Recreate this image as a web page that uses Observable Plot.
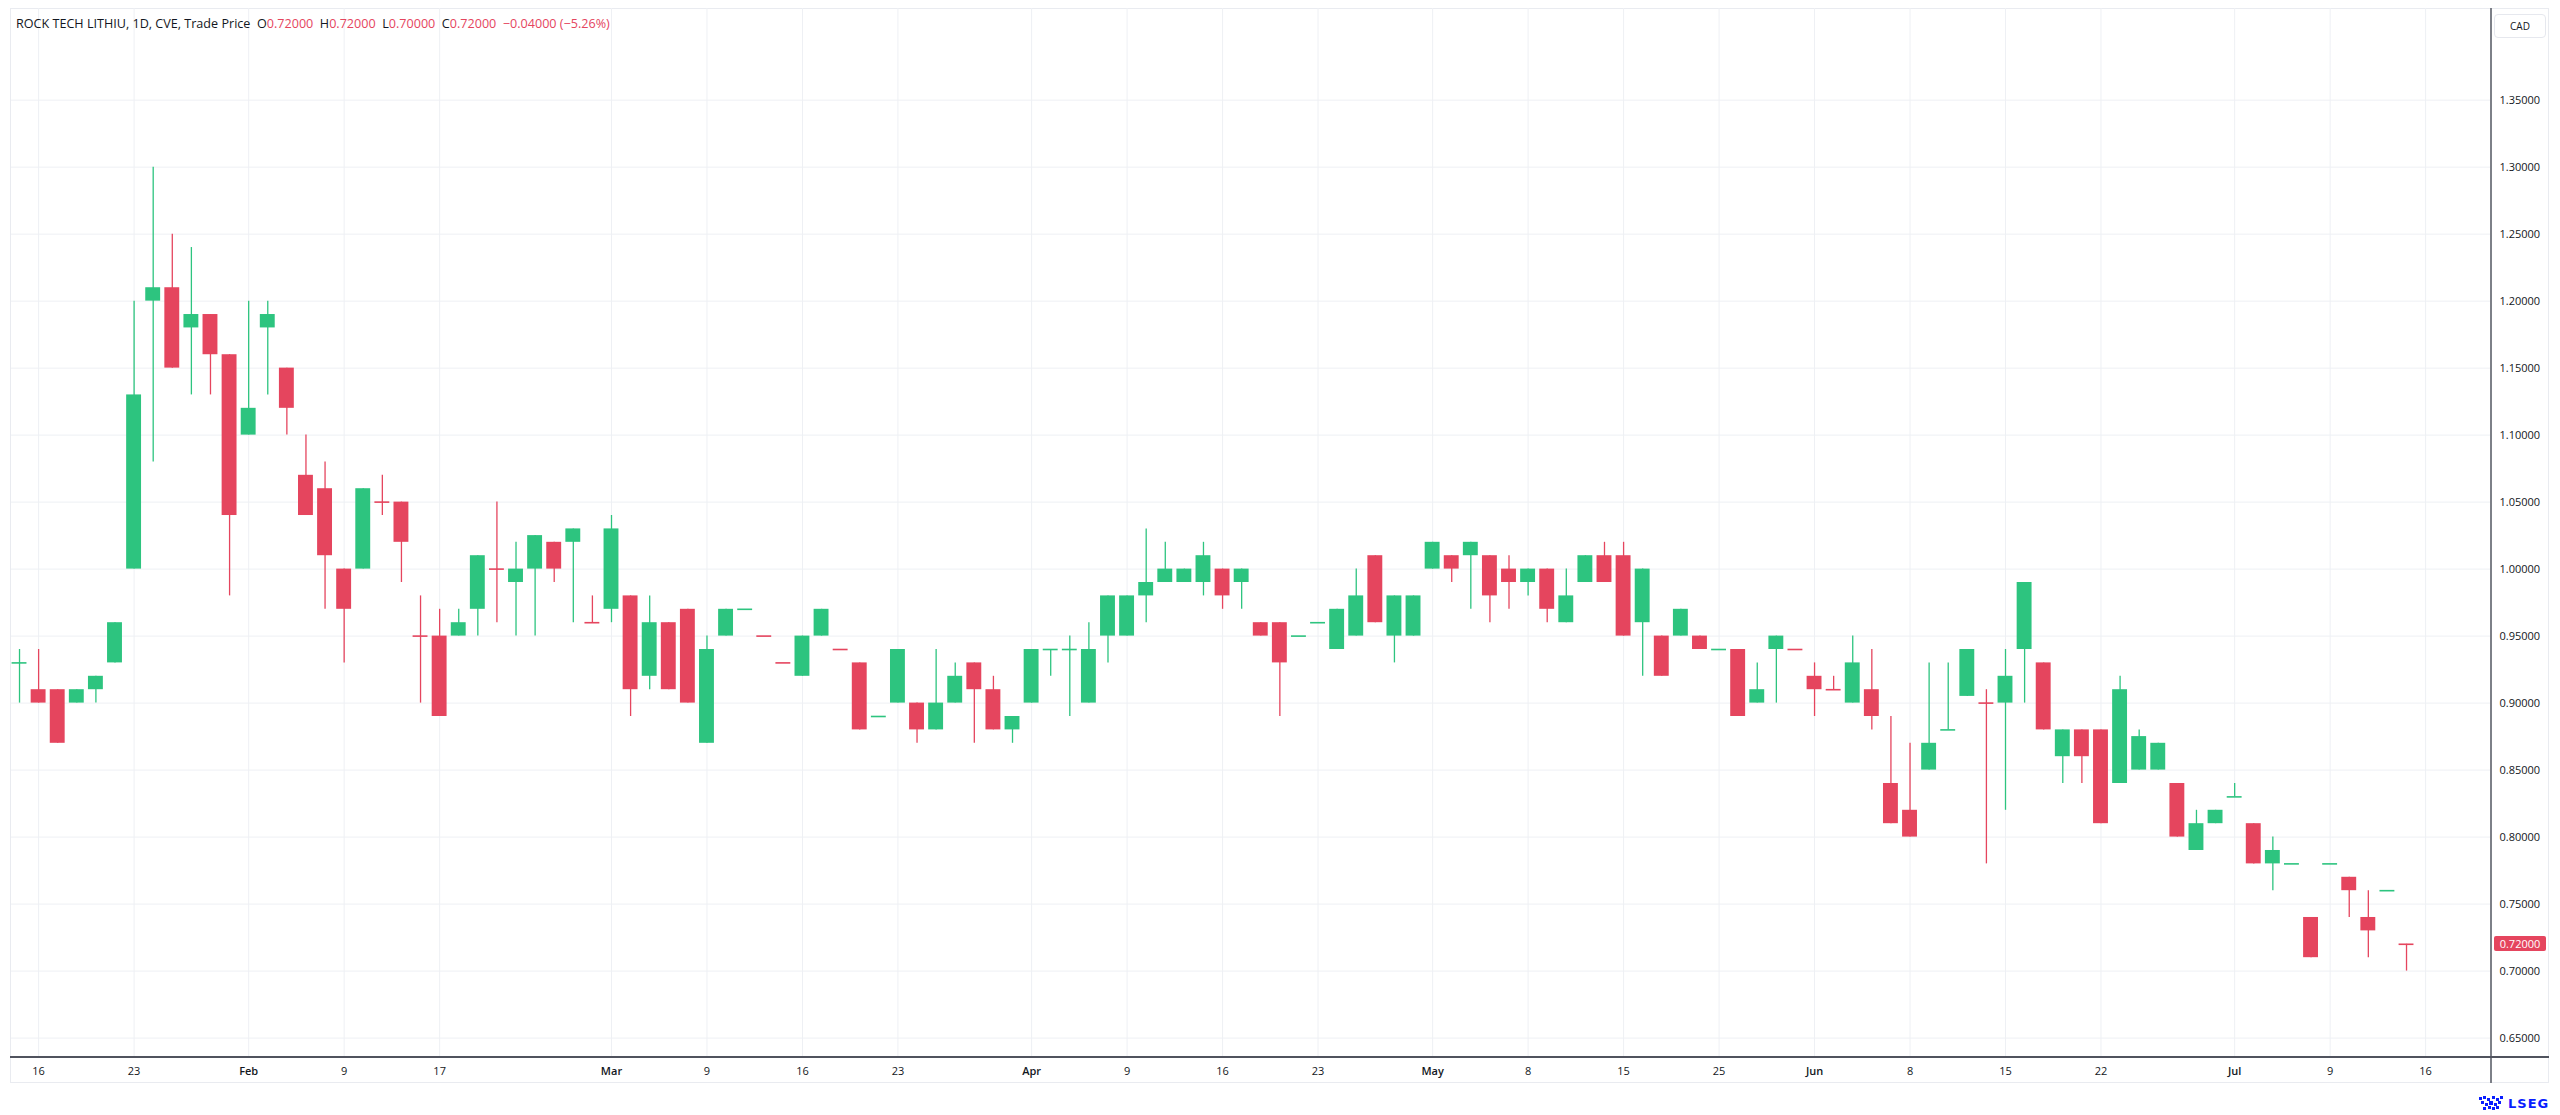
<!DOCTYPE html>
<html>
<head>
<meta charset="utf-8">
<script src="https://cdn.jsdelivr.net/npm/d3@7"></script>
<script src="https://cdn.jsdelivr.net/npm/@observablehq/plot@0.6"></script>
<style>
  body { margin: 0; background: #ffffff; font-family: "Open Sans", "Noto Sans", sans-serif; }
  #wrap { position: relative; width: 2560px; height: 1115px; overflow: hidden; background: #fff; }
  #wrap svg.plot { position: absolute; left: 0; top: 0; }
  .abs { position: absolute; }
  #frame { left: 10px; top: 8px; width: 2539px; height: 1075px; border: 1px solid #e9ebf0; box-sizing: border-box; }
  #header { left: 16px; top: 15px; font-size: 12.6px; color: #131722; white-space: pre; line-height: 18px; }
  #header .v { color: #e5455e; }
  #cad { left: 2494px; top: 14px; width: 52px; height: 24px; border: 1px solid #e6e8ee; border-radius: 4px; box-sizing: border-box;
         font-size: 10px; color: #131722; text-align: center; line-height: 22px; }
  #tag { left: 2494px; width: 52px; height: 15px; background: #e5455e; color: #fff; font-size: 11px; text-align: center; line-height: 15px; border-radius: 2px; }
  #vline { left: 2490px; top: 8px; width: 2px; height: 1075px; background: #7d8088; }
  #hline { left: 10px; top: 1056px; width: 2539px; height: 2px; background: #50535e; }
  #logo { left: 2478px; top: 1094px; height: 18px; display: flex; align-items: center; gap: 4px; }
  #logo span { font-family: "DejaVu Sans", sans-serif; font-weight: bold; font-size: 13px; color: #0a1eff; letter-spacing: 1px; }
</style>
</head>
<body>
<div id="wrap"></div>
<script>
// ---- data ----
const dates = [
  "2026-01-15","2026-01-16","2026-01-19","2026-01-20","2026-01-21","2026-01-22","2026-01-23","2026-01-26","2026-01-27","2026-01-28","2026-01-29","2026-01-30",
  "2026-02-02","2026-02-03","2026-02-04","2026-02-05","2026-02-06","2026-02-09","2026-02-10","2026-02-11","2026-02-12","2026-02-13","2026-02-17","2026-02-18","2026-02-19","2026-02-20","2026-02-23","2026-02-24","2026-02-25","2026-02-26","2026-02-27",
  "2026-03-02","2026-03-03","2026-03-04","2026-03-05","2026-03-06","2026-03-09","2026-03-10","2026-03-11","2026-03-12","2026-03-13","2026-03-16","2026-03-17","2026-03-18","2026-03-19","2026-03-20","2026-03-23","2026-03-24","2026-03-25","2026-03-26","2026-03-27","2026-03-30","2026-03-31",
  "2026-04-01","2026-04-02","2026-04-06","2026-04-07","2026-04-08","2026-04-09","2026-04-10","2026-04-13","2026-04-14","2026-04-15","2026-04-16","2026-04-17","2026-04-20","2026-04-21","2026-04-22","2026-04-23","2026-04-24","2026-04-27","2026-04-28","2026-04-29","2026-04-30",
  "2026-05-01","2026-05-04","2026-05-05","2026-05-06","2026-05-07","2026-05-08","2026-05-11","2026-05-12","2026-05-13","2026-05-14","2026-05-15","2026-05-19","2026-05-20","2026-05-21","2026-05-22","2026-05-25","2026-05-26","2026-05-27","2026-05-28","2026-05-29",
  "2026-06-01","2026-06-02","2026-06-03","2026-06-04","2026-06-05","2026-06-08","2026-06-09","2026-06-10","2026-06-11","2026-06-12","2026-06-15","2026-06-16","2026-06-17","2026-06-18","2026-06-19","2026-06-22","2026-06-23","2026-06-24","2026-06-25","2026-06-26","2026-06-29","2026-06-30",
  "2026-07-02","2026-07-03","2026-07-06","2026-07-07","2026-07-08","2026-07-09","2026-07-10","2026-07-13","2026-07-14","2026-07-15"
];
const open = [
  0.93,0.91,0.91,0.90,0.91,0.93,1.00,1.20,1.21,1.18,1.19,1.16,
  1.10,1.18,1.15,1.07,1.06,1.00,1.00,1.05,1.05,0.95,0.95,0.95,0.97,1.00,0.99,1.00,1.02,1.02,0.96,
  0.97,0.98,0.92,0.96,0.97,0.87,0.95,0.97,0.95,0.93,0.92,0.95,0.94,0.93,0.89,0.90,0.90,0.88,0.90,0.93,0.91,0.88,
  0.90,0.94,0.94,0.90,0.95,0.95,0.98,0.99,0.99,0.99,1.00,0.99,0.96,0.96,0.95,0.96,0.94,0.95,1.01,0.95,0.95,
  1.00,1.01,1.01,1.01,1.00,0.99,1.00,0.96,0.99,1.01,1.01,0.96,0.95,0.95,0.95,0.94,0.94,0.90,0.94,0.94,
  0.92,0.91,0.90,0.91,0.84,0.82,0.85,0.88,0.905,0.90,0.90,0.94,0.93,0.86,0.88,0.88,0.84,0.85,0.85,0.84,0.79,0.81,
  0.83,0.81,0.78,0.78,0.74,0.78,0.77,0.74,0.76,0.72
];
const high = [
  0.94,0.94,0.91,0.91,0.92,0.96,1.20,1.30,1.25,1.24,1.19,1.16,
  1.20,1.20,1.15,1.10,1.08,1.00,1.06,1.07,1.05,0.98,0.97,0.97,1.01,1.05,1.02,1.025,1.02,1.03,0.98,
  1.04,0.98,0.98,0.96,0.97,0.95,0.97,0.97,0.95,0.93,0.95,0.97,0.94,0.93,0.89,0.94,0.90,0.94,0.93,0.93,0.92,0.89,
  0.94,0.94,0.95,0.96,0.98,0.98,1.03,1.02,1.00,1.02,1.00,1.00,0.96,0.96,0.95,0.96,0.97,1.00,1.01,0.98,0.98,
  1.02,1.01,1.02,1.01,1.01,1.00,1.00,1.00,1.01,1.02,1.02,1.00,0.95,0.97,0.95,0.94,0.94,0.93,0.95,0.94,
  0.93,0.92,0.95,0.94,0.89,0.87,0.93,0.93,0.94,0.91,0.94,0.99,0.93,0.88,0.88,0.88,0.92,0.88,0.87,0.84,0.82,0.82,
  0.84,0.81,0.80,0.78,0.74,0.78,0.77,0.76,0.76,0.72
];
const low = [
  0.90,0.90,0.87,0.90,0.90,0.93,1.00,1.08,1.15,1.13,1.13,0.98,
  1.10,1.13,1.10,1.04,0.97,0.93,1.00,1.04,0.99,0.90,0.89,0.95,0.95,0.96,0.95,0.95,0.99,0.96,0.96,
  0.96,0.89,0.91,0.91,0.90,0.87,0.95,0.97,0.95,0.93,0.92,0.95,0.94,0.88,0.89,0.90,0.87,0.88,0.90,0.87,0.88,0.87,
  0.90,0.92,0.89,0.90,0.93,0.95,0.96,0.99,0.99,0.98,0.97,0.97,0.95,0.89,0.95,0.96,0.94,0.95,0.96,0.93,0.95,
  1.00,0.99,0.97,0.96,0.97,0.98,0.96,0.96,0.99,0.99,0.95,0.92,0.92,0.95,0.94,0.94,0.89,0.90,0.90,0.94,
  0.89,0.91,0.90,0.88,0.81,0.80,0.85,0.88,0.905,0.78,0.82,0.90,0.88,0.84,0.84,0.81,0.84,0.85,0.85,0.80,0.79,0.81,
  0.83,0.78,0.76,0.78,0.71,0.78,0.74,0.71,0.76,0.70
];
const close = [
  0.93,0.90,0.87,0.91,0.92,0.96,1.13,1.21,1.15,1.19,1.16,1.04,
  1.12,1.19,1.12,1.04,1.01,0.97,1.06,1.05,1.02,0.95,0.89,0.96,1.01,1.00,1.00,1.025,1.00,1.03,0.96,
  1.03,0.91,0.96,0.91,0.90,0.94,0.97,0.97,0.95,0.93,0.95,0.97,0.94,0.88,0.89,0.94,0.88,0.90,0.92,0.91,0.88,0.89,
  0.94,0.94,0.94,0.94,0.98,0.98,0.99,1.00,1.00,1.01,0.98,1.00,0.95,0.93,0.95,0.96,0.97,0.98,0.96,0.98,0.98,
  1.02,1.00,1.02,0.98,0.99,1.00,0.97,0.98,1.01,0.99,0.95,1.00,0.92,0.97,0.94,0.94,0.89,0.91,0.95,0.94,
  0.91,0.91,0.93,0.89,0.81,0.80,0.87,0.88,0.94,0.90,0.92,0.99,0.88,0.88,0.86,0.81,0.91,0.875,0.87,0.80,0.81,0.82,
  0.83,0.78,0.79,0.78,0.71,0.78,0.76,0.73,0.76,0.72
];
// sessions where open == close and the candle was drawn as a down candle
const dojiDown = ["2026-02-11","2026-02-13","2026-02-20","2026-02-27","2026-03-12","2026-03-13","2026-03-18","2026-05-29","2026-06-02","2026-06-12","2026-07-15"];

const tickDates  = ["2026-01-16","2026-01-23","2026-02-02","2026-02-09","2026-02-17","2026-03-02","2026-03-09","2026-03-16","2026-03-23","2026-04-01","2026-04-09","2026-04-16","2026-04-23","2026-05-01","2026-05-08","2026-05-15","2026-05-25","2026-06-01","2026-06-08","2026-06-15","2026-06-22","2026-07-02","2026-07-09","2026-07-16"];
const tickLabels = ["16","23","Feb","9","17","Mar","9","16","23","Apr","9","16","23","May","8","15","25","Jun","8","15","22","Jul","9","16"];
const yTicks = [0.65,0.70,0.75,0.80,0.85,0.90,0.95,1.00,1.05,1.10,1.15,1.20,1.25,1.30,1.35];

const header = {name: "ROCK TECH LITHIU, 1D, CVE, Trade Price", o: "0.72000", h: "0.72000", l: "0.70000", c: "0.72000", chg: "\u22120.04000 (\u22125.26%)"};
const lastPrice = 0.72;

// ---- build ----
const GREEN = "#2dc47f", RED = "#e5455e";
const rows = dates.map((d, i) => {
  const o = open[i], c = close[i];
  const up = c > o || (c === o && !dojiDown.includes(d));
  return {i, date: d, o, h: high[i], l: low[i], c, up, col: up ? GREEN : RED};
});
const tickIdx = tickDates.map(d => { const k = dates.indexOf(d); return k >= 0 ? k : dates.length; });
const labelOf = new Map(tickIdx.map((k, j) => [k, tickLabels[j]]));
const HW = 0.39;

const chart = Plot.plot({
  width: 2560, height: 1083,
  marginTop: 8, marginBottom: 26, marginLeft: 11, marginRight: 69,
  style: {fontFamily: "'Open Sans', 'Noto Sans', sans-serif", fontSize: "11px", color: "#131722", background: "transparent", overflow: "visible"},
  color: {type: "identity"},
  x: {domain: [-0.42, 129.45], axis: null},
  y: {domain: [0.6355, 1.4184], axis: null},
  marks: [
    Plot.gridX(tickIdx, {stroke: "#eef0f4", strokeOpacity: 1}),
    Plot.gridY(yTicks, {stroke: "#eef0f4", strokeOpacity: 1}),
    Plot.axisX(tickIdx, {tickFormat: k => labelOf.get(k), tickSize: 0, tickPadding: 10, label: null, fill: "#131722"}),
    Plot.axisY(yTicks, {anchor: "right", tickFormat: d3.format(".5f"), tickSize: 0, tickPadding: 8, label: null, fill: "#131722", textAnchor: "start"}),
    Plot.ruleX(rows, {x: "i", y1: "l", y2: "h", stroke: "col", strokeWidth: 1.3}),
    Plot.rect(rows.filter(d => d.o !== d.c), {
      x1: d => d.i - HW, x2: d => d.i + HW,
      y1: d => Math.min(d.o, d.c), y2: d => Math.max(d.o, d.c),
      fill: "col"
    }),
    Plot.ruleY(rows.filter(d => d.o === d.c), {y: "o", x1: d => d.i - HW, x2: d => d.i + HW, stroke: "col", strokeWidth: 1.6})
  ]
});
chart.classList.add("plot");

const wrap = document.getElementById("wrap");
const frame = document.createElement("div"); frame.id = "frame"; frame.className = "abs"; wrap.appendChild(frame);
wrap.appendChild(chart);

// bold month labels
chart.querySelectorAll('g[aria-label="x-axis tick label"] text').forEach(t => {
  if (/[A-Za-z]/.test(t.textContent)) t.setAttribute("font-weight", "600");
});

const vline = document.createElement("div"); vline.id = "vline"; vline.className = "abs"; wrap.appendChild(vline);
const hline = document.createElement("div"); hline.id = "hline"; hline.className = "abs"; wrap.appendChild(hline);

const hd = document.createElement("div"); hd.id = "header"; hd.className = "abs";
hd.innerHTML = `${header.name}  O<span class="v">${header.o}</span>  H<span class="v">${header.h}</span>  L<span class="v">${header.l}</span>  C<span class="v">${header.c}</span>  <span class="v">${header.chg}</span>`;
wrap.appendChild(hd);

const cad = document.createElement("div"); cad.id = "cad"; cad.className = "abs"; cad.textContent = "CAD"; wrap.appendChild(cad);

const tag = document.createElement("div"); tag.id = "tag"; tag.className = "abs";
tag.textContent = d3.format(".5f")(lastPrice);
tag.style.top = (chart.scale("y").apply(lastPrice) - 7.5) + "px";
wrap.appendChild(tag);

const logo = document.createElement("div"); logo.id = "logo"; logo.className = "abs";
logo.innerHTML = `<svg width="26" height="16" viewBox="0 0 26 16"><g fill="#0a1eff">
<rect x="1" y="2" width="3" height="3"/><rect x="5" y="1" width="3" height="3"/><rect x="9" y="3" width="3" height="3"/><rect x="14" y="1" width="3" height="3"/><rect x="18" y="3" width="3" height="3"/><rect x="22" y="1" width="3" height="3"/>
<rect x="3" y="6" width="3" height="3"/><rect x="7" y="8" width="3" height="3"/><rect x="11" y="6" width="4" height="4"/><rect x="16" y="8" width="3" height="3"/><rect x="20" y="6" width="3" height="3"/>
<rect x="5" y="12" width="3" height="3"/><rect x="10" y="11" width="3" height="3"/><rect x="14" y="12" width="3" height="3"/><rect x="18" y="11" width="3" height="3"/></g></svg><span>LSEG</span>`;
wrap.appendChild(logo);
</script>
</body>
</html>
